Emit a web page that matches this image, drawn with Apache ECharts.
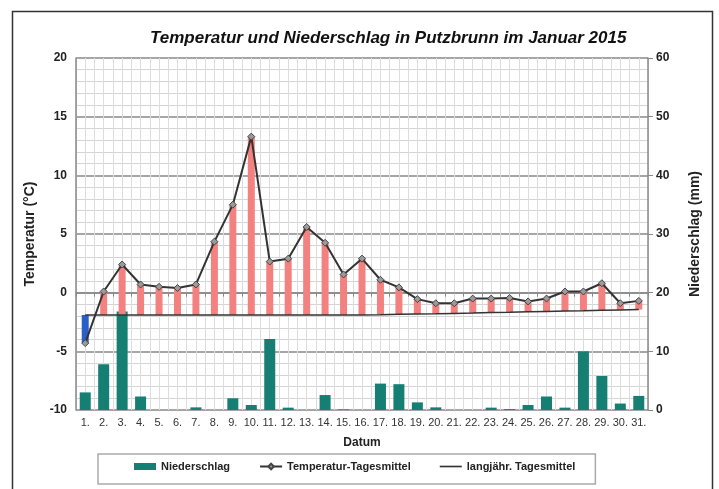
<!DOCTYPE html>
<html>
<head>
<meta charset="utf-8">
<script src="https://cdn.jsdelivr.net/npm/echarts@6/dist/echarts.min.js"></script>
<style>
  html, body { margin: 0; padding: 0; background: #fff; }
  #chart { width: 719px; height: 489px; }
</style>
</head>
<body>
<div id="chart"></div>
<script>
var days = [];
for (var d = 1; d <= 31; d++) days.push(d + '.');

// Tagesmittel Temperatur (°C)
var temp = [-4.3, 0.1, 2.4, 0.7, 0.5, 0.4, 0.7, 4.35, 7.5, 13.3,
            2.65, 2.9, 5.6, 4.25, 1.55, 2.9, 1.1, 0.45, -0.55, -0.9,
            -0.9, -0.5, -0.5, -0.45, -0.75, -0.5, 0.1, 0.1, 0.8, -0.9, -0.7];
// langjähriges Tagesmittel (°C)
var longMean = [-1.9, -1.9, -1.9, -1.9, -1.9, -1.9, -1.9, -1.9, -1.9, -1.9,
                -1.9, -1.9, -1.9, -1.9, -1.9, -1.9, -1.88, -1.85, -1.82, -1.8,
                -1.77, -1.74, -1.7, -1.67, -1.63, -1.6, -1.57, -1.54, -1.5, -1.47, -1.44];
// Niederschlag (mm)
var precip = [3.0, 7.8, 16.8, 2.3, 0, 0, 0.45, 0, 2.0, 0.85,
              12.1, 0.4, 0, 2.55, 0.1, 0, 4.5, 4.4, 1.3, 0.45,
              0, 0, 0.4, 0.15, 0.85, 2.3, 0.4, 10.0, 5.8, 1.1, 2.4];

// Abweichung vom langjährigen Mittel: unsichtbare Basis + sichtbarer Balken
var devBase = [], devBar = [];
for (var i = 0; i < temp.length; i++) {
    devBase.push(Math.min(temp[i], longMean[i]));
    devBar.push({
        value: Math.abs(temp[i] - longMean[i]),
        itemStyle: { color: temp[i] >= longMean[i] ? '#f3817f' : '#2b5fc8' }
    });
}

var chart = echarts.init(document.getElementById('chart'));

var option = {
    animation: false,
    backgroundColor: '#fff',
    textStyle: { fontFamily: 'Liberation Sans, Arial, sans-serif' },
    title: {
        text: 'Temperatur und Niederschlag in Putzbrunn im Januar 2015',
        left: 145,
        top: 25,
        textStyle: { fontSize: 17, fontWeight: 'bold', fontStyle: 'italic', color: '#111' }
    },
    graphic: [{
        type: 'rect',
        shape: { x: 12.5, y: 11.5, width: 700, height: 500 },
        style: { fill: 'none', stroke: '#333', lineWidth: 1.5 },
        silent: true
    }],
    legend: {
        left: 98,
        top: 454,
        padding: [7, 20, 12, 36],
        itemGap: 29,
        itemWidth: 22,
        itemHeight: 7,
        borderColor: '#aaa',
        borderWidth: 1.5,
        textStyle: { fontSize: 11, fontWeight: 'bold', color: '#222' },
        data: [
            { name: 'Niederschlag', icon: 'rect' },
            { name: 'Temperatur-Tagesmittel' },
            { name: 'langjähr. Tagesmittel', icon: 'path://M0,0 H40 V3 H0 Z' }
        ]
    },
    grid: { left: 76, right: 71, top: 58, bottom: 79 },
    xAxis: [
        {
            type: 'category',
            data: days,
            axisLine: { lineStyle: { color: '#888', width: 1.5 } },
            axisTick: { show: true, length: 4, lineStyle: { color: '#888' } },
            axisLabel: { fontSize: 11, color: '#333', margin: 7, interval: 0 },
            splitLine: { show: true, interval: 0, lineStyle: { color: '#8c8c8c', width: 1 } },
            name: 'Datum',
            nameLocation: 'middle',
            nameGap: 27,
            nameTextStyle: { fontSize: 12, fontWeight: 'bold', color: '#222' }
        },
        { type: 'category', data: days, show: false },
        {
            type: 'value', min: 0, max: 62, interval: 1,
            axisLine: { show: false }, axisTick: { show: false }, axisLabel: { show: false },
            splitLine: { show: true, lineStyle: { color: '#dcdcdc', width: 1 } }
        }
    ],
    yAxis: [
        {
            type: 'value', min: -10, max: 20, interval: 5,
            axisLine: { show: true, lineStyle: { color: '#888', width: 1.5 } },
            axisTick: { show: false },
            axisLabel: { fontSize: 12, fontWeight: 'bold', color: '#222', margin: 9 },
            splitLine: { show: true, lineStyle: { color: '#888', width: 1.5 } },
            minorTick: { show: false, splitNumber: 5 },
            minorSplitLine: { show: true, lineStyle: { color: '#d4d4d4', width: 1 } },
            name: 'Temperatur (°C)',
            nameLocation: 'middle',
            nameRotate: 90,
            nameGap: 39,
            nameTextStyle: { fontSize: 14, fontWeight: 'bold', color: '#222' }
        },
        {
            type: 'value', min: 0, max: 60, interval: 10,
            axisLine: { show: true, lineStyle: { color: '#888', width: 1.5 } },
            axisTick: { show: true, length: 5, lineStyle: { color: '#888' } },
            axisLabel: { fontSize: 12, fontWeight: 'bold', color: '#222', margin: 8 },
            splitLine: { show: false },
            name: 'Niederschlag (mm)',
            nameLocation: 'middle',
            nameRotate: 90,
            nameGap: 40,
            nameTextStyle: { fontSize: 14, fontWeight: 'bold', color: '#222' }
        }
    ],
    series: [
        {
            name: 'Niederschlag',
            type: 'bar',
            xAxisIndex: 1,
            yAxisIndex: 1,
            barWidth: 11,
            itemStyle: { color: '#167f73' },
            data: precip,
            z: 2
        },
        {
            name: 'base',
            type: 'bar',
            stack: 'dev',
            stackStrategy: 'all',
            barWidth: 7,
            itemStyle: { color: 'transparent' },
            data: devBase,
            z: 3
        },
        {
            name: 'Abweichung',
            type: 'bar',
            stack: 'dev',
            stackStrategy: 'all',
            barWidth: 7,
            data: devBar,
            z: 3
        },
        {
            name: 'langjähr. Tagesmittel',
            type: 'line',
            data: longMean,
            symbol: 'none',
            lineStyle: { color: '#333', width: 1.5 },
            itemStyle: { color: '#333' },
            z: 4
        },
        {
            name: 'Temperatur-Tagesmittel',
            type: 'line',
            data: temp,
            symbol: 'diamond',
            symbolSize: 7,
            lineStyle: { color: '#333', width: 2 },
            itemStyle: { color: '#9a9a9a', borderColor: '#444', borderWidth: 1 },
            z: 5
        }
    ]
};

chart.setOption(option);
</script>
</body>
</html>
